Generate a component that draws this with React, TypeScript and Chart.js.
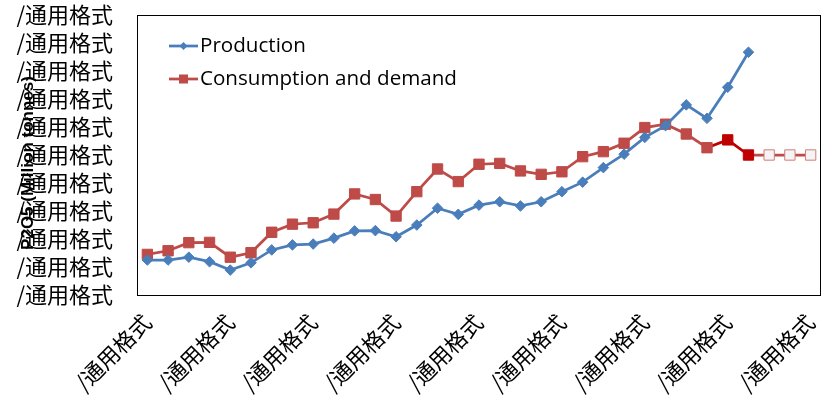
import React, { useEffect, useRef } from 'react';
import { Chart, registerables } from 'chart.js';

Chart.register(...registerables);

const TICK_TEXT = '/通用格式';

// 33 categories (labels are shown as the broken number format of the source)
const categories: string[] = new Array(33).fill(TICK_TEXT);

const yTickLabels: string[] = new Array(11).fill(TICK_TEXT);

const production: number[] = [
  12.5, 12.5, 13.5, 11.9, 8.9, 11.5, 16.1, 17.9, 18.2, 20.3,
  22.9, 23.0, 20.8, 25.0, 31.0, 28.8, 32.1, 33.3, 31.8, 33.3,
  36.9, 40.3, 45.5, 50.3, 56.3, 60.5, 67.9, 63.1, 74.2, 86.7,
];

const consumption: number[] = [
  14.5, 15.8, 18.7, 18.8, 13.5, 15.1, 22.4, 25.3, 25.8, 28.9,
  36.1, 34.1, 28.2, 36.9, 45.0, 40.5, 46.7, 47.0, 44.3, 43.1,
  44.0, 49.4, 51.2, 54.2, 59.8, 61.0, 57.5, 52.6, 55.4, 50.0,
  50.0, 50.0, 50.0,
];

const seriesNames = ['Production', 'Consumption and demand'];
const yTitle = 'P2O5 (Million tonnes)';

const BLUE = '#4A7EBB';
const RED = '#BE4B48';
const DARK_RED = '#C00000';
const HOLLOW_FILL = '#F4F4F4';
const HOLLOW_BORDER = '#D47C79';

export default function App() {
  const ref = useRef<HTMLCanvasElement | null>(null);

  useEffect(() => {
    document.body.style.margin = '0';
    const canvas = ref.current;
    if (!canvas) return;

    const consFill = consumption.map((_, i) => (i >= 30 ? HOLLOW_FILL : i >= 28 ? DARK_RED : RED));
    const consBorder = consumption.map((_, i) => (i >= 30 ? HOLLOW_BORDER : i >= 28 ? DARK_RED : RED));

    const overlay = {
      id: 'overlay',
      afterDatasetsDraw(chart: any) {
        const { ctx, chartArea } = chart;
        ctx.save();
        // frame
        ctx.strokeStyle = '#000000';
        ctx.lineWidth = 1;
        ctx.strokeRect(
          Math.round(chartArea.left) + 0.5,
          Math.round(chartArea.top) + 0.5,
          Math.round(chartArea.right - chartArea.left) - 1,
          Math.round(chartArea.bottom - chartArea.top)
        );
        // legend
        const lx = chartArea.left + 32;
        const rows = [
          { y: chartArea.top + 31, color: BLUE, style: 'diamond', text: seriesNames[0] },
          { y: chartArea.top + 64, color: RED, style: 'square', text: seriesNames[1] },
        ];
        ctx.font = '20.6px "Open Sans"';
        ctx.textBaseline = 'middle';
        ctx.textAlign = 'left';
        rows.forEach((r) => {
          ctx.strokeStyle = r.color;
          ctx.lineWidth = 2.75;
          ctx.beginPath();
          ctx.moveTo(lx, r.y);
          ctx.lineTo(lx + 29, r.y);
          ctx.stroke();
          ctx.fillStyle = r.color;
          const cx = lx + 14.5;
          if (r.style === 'diamond') {
            ctx.beginPath();
            ctx.moveTo(cx, r.y - 4);
            ctx.lineTo(cx + 4, r.y);
            ctx.lineTo(cx, r.y + 4);
            ctx.lineTo(cx - 4, r.y);
            ctx.closePath();
            ctx.fill();
          } else {
            ctx.fillRect(cx - 4.5, r.y - 4.5, 9, 9);
          }
          ctx.fillStyle = '#000000';
          ctx.fillText(r.text, lx + 31, r.y);
        });
        ctx.restore();
      },
      beforeDatasetsDraw(chart: any) {
        const { ctx, chartArea } = chart;
        ctx.save();
        ctx.translate(28, (chartArea.top + chartArea.bottom) / 2 + 8);
        ctx.rotate(-Math.PI / 2);
        ctx.font = 'bold 17px "Liberation Sans"';
        ctx.fillStyle = '#000000';
        ctx.textAlign = 'center';
        ctx.textBaseline = 'middle';
        ctx.fillText(yTitle, 0, 0);
        ctx.restore();
      },
    };

    const chart = new Chart(canvas, {
      type: 'line',
      data: {
        labels: categories,
        datasets: [
          {
            label: seriesNames[0],
            data: production,
            borderColor: BLUE,
            backgroundColor: BLUE,
            borderWidth: 2.75,
            pointStyle: 'rectRot',
            pointRadius: 5.3,
            pointBorderWidth: 1,
            pointBackgroundColor: BLUE,
            pointBorderColor: BLUE,
            tension: 0,
            order: 1,
          },
          {
            label: seriesNames[1],
            data: consumption,
            borderColor: RED,
            backgroundColor: RED,
            borderWidth: 2.75,
            pointStyle: 'rect',
            pointRadius: 7.3,
            pointBorderWidth: 1,
            pointBackgroundColor: consFill,
            pointBorderColor: consBorder,
            tension: 0,
            order: 2,
            segment: {
              borderColor: (c: any) => (c.p0DataIndex >= 27 && c.p0DataIndex < 29 ? DARK_RED : RED),
            },
          },
        ],
      },
      options: {
        animation: false,
        responsive: false,
        maintainAspectRatio: false,
        layout: { autoPadding: false, padding: { top: 15, right: 2, left: 0, bottom: 0 } },
        plugins: {
          legend: { display: false },
          tooltip: { enabled: false },
        },
        scales: {
          x: {
            type: 'category',
            offset: true,
            grid: { display: false, drawTicks: false },
            border: { display: false },
            ticks: {
              autoSkip: false,
              maxRotation: 45,
              minRotation: 45,
              padding: 14,
              color: '#000000',
              font: { family: '"Noto Sans CJK SC"', size: 22 },
              callback: (_v: any, i: number) => (i % 4 === 0 ? categories[i] : ''),
            },
            afterFit: (s: any) => {
              s.height = 112;
              s.paddingLeft = 0;
              s.paddingRight = 0;
            },
          },
          y: {
            min: 0,
            max: 100,
            grid: { display: false, drawTicks: false },
            border: { display: false },
            ticks: {
              autoSkip: false,
              stepSize: 10,
              padding: 24,
              color: '#000000',
              font: { family: '"Noto Sans CJK SC"', size: 22 },
              callback: (_v: any, i: number) => yTickLabels[i],
            },
            afterFit: (s: any) => {
              s.width = 137;
              s.paddingTop = 0;
              s.paddingBottom = 0;
            },
          },
        },
      },
      plugins: [overlay],
    });

    return () => chart.destroy();
  }, []);

  return (
    <div style={{ width: 823, height: 407 }}>
      <canvas ref={ref} width={823} height={407} style={{ display: 'block' }} />
    </div>
  );
}
